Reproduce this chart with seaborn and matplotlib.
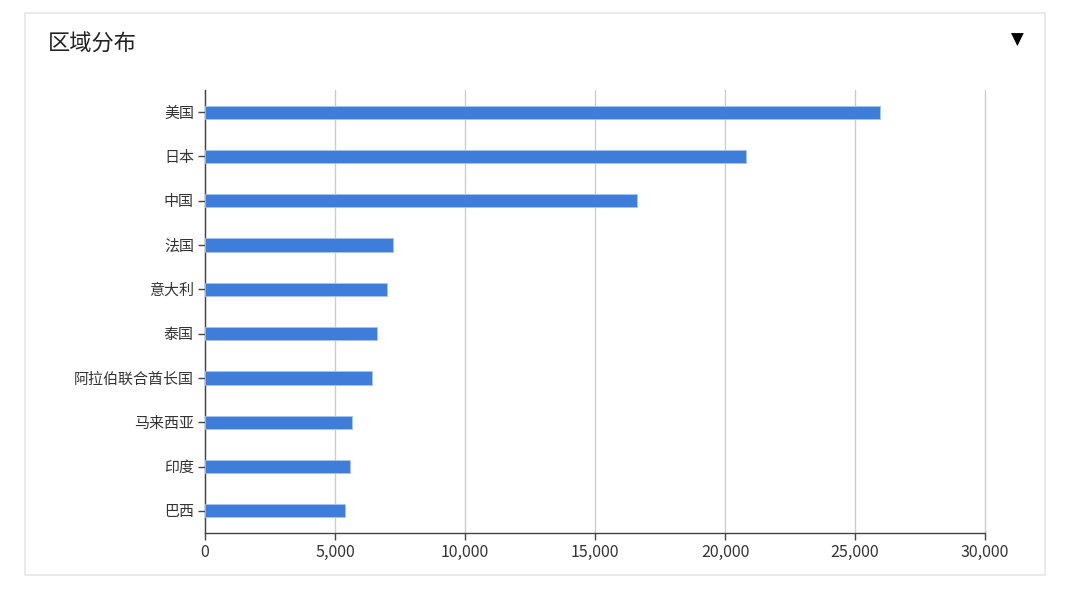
import matplotlib
matplotlib.use("Agg")
import matplotlib.pyplot as plt
import matplotlib.patches as mpatches
import pandas as pd
import seaborn as sns

regions = ["美国", "日本", "中国", "法国", "意大利", "泰国", "阿拉伯联合酋长国", "马来西亚", "印度", "巴西"]
values = [25950, 20810, 16630, 7240, 6990, 6610, 6440, 5650, 5590, 5390]
x_ticks = [0, 5000, 10000, 15000, 20000, 25000, 30000]

sns.set_theme(style="white")
plt.rcParams['font.family'] = ['Noto Sans CJK SC', 'DejaVu Sans']

df = pd.DataFrame({"region": regions, "value": values})

fig = plt.figure(figsize=(10.8, 5.89), dpi=100, facecolor="white")

# card border
card = mpatches.Rectangle((25 / 1080, 1 - 575 / 589), 1020 / 1080, 562 / 589,
                          transform=fig.transFigure, facecolor="none",
                          edgecolor="#e6e6e6", linewidth=1.2, zorder=-1)
fig.patches.append(card)

fig.text(48 / 1080, 1 - 44 / 589, "区域分布", fontsize=16, color="#222222",
         va="center", ha="left")
fig.text(1017 / 1080, 1 - 40 / 589, "▼", fontsize=12, color="black",
         va="center", ha="center", family=['DejaVu Sans'])

ax = fig.add_axes([205 / 1080, 1 - 533 / 589, 780 / 1080, 443 / 589])
ax.set_facecolor("none")
sns.barplot(data=df, x="value", y="region", color="#3f7ddb", width=0.3,
            edgecolor="#a8c4f0", linewidth=0.6, saturation=1, ax=ax, zorder=3)

ax.set_xlim(0, 30000)
ax.set_ylim(9.5, -0.5)
ax.set_xticks(x_ticks)
ax.set_xticklabels([f"{t:,}" for t in x_ticks])
ax.set_xlabel("")
ax.set_ylabel("")
ax.xaxis.grid(True, color="#cccccc", linewidth=1, zorder=0)
ax.yaxis.grid(False)
for line in ax.get_xgridlines():
    line.set_clip_on(False)
for side in ["top", "right"]:
    ax.spines[side].set_visible(False)
for side in ["left", "bottom"]:
    ax.spines[side].set_visible(True)
    ax.spines[side].set_color("#444444")
    ax.spines[side].set_linewidth(1)
ax.tick_params(axis="both", which="both", length=5, width=1, color="#444444",
               labelsize=10.8, labelcolor="#333333", pad=3)
ax.tick_params(axis="y", direction="out", left=True)
ax.tick_params(axis="x", direction="out", bottom=True, labelsize=11.5)

plt.savefig("out.png", dpi=100)
plt.close()
